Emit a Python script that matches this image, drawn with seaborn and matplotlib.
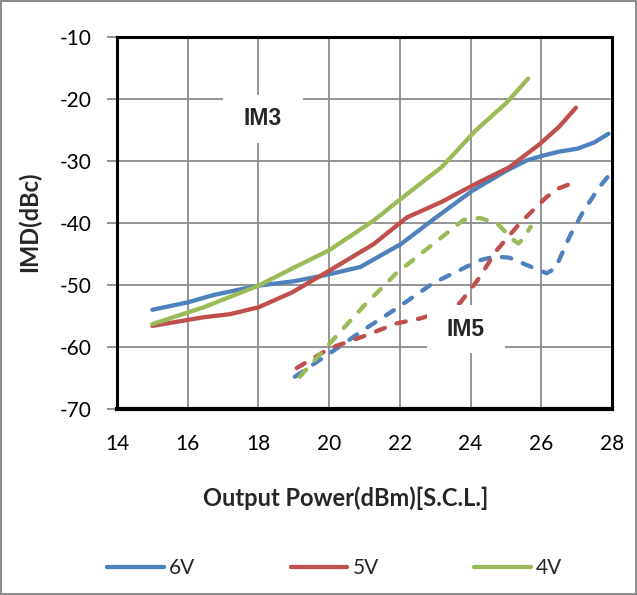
import matplotlib
matplotlib.use("Agg")
import matplotlib.pyplot as plt
import seaborn as sns
import pandas as pd
from matplotlib.patches import Rectangle

# ---- data ----
im3_6v_x = [15, 16, 16.74, 18, 19, 19.82, 20.88, 22.03, 23, 24.05, 25, 25.59, 26.07, 26.5, 27.03, 27.5, 27.9]
im3_6v_y = [-54.0, -52.8, -51.6, -50.1, -49.4, -48.5, -47.1, -43.4, -39.2, -34.8, -31.6, -29.9, -29.1, -28.5, -28.0, -27.0, -25.6]

im3_5v_x = [15, 16.45, 17.2, 18, 18.95, 20, 21.26, 22.2, 23.18, 24.14, 25.1, 25.97, 26.5, 26.98]
im3_5v_y = [-56.6, -55.2, -54.7, -53.6, -51.2, -47.7, -43.4, -39.1, -36.6, -33.7, -31.0, -27.2, -24.5, -21.4]

im3_4v_x = [15, 16.45, 18, 19, 20, 21.26, 22.03, 23.18, 24.14, 25, 25.63]
im3_4v_y = [-56.3, -53.6, -50.1, -47.2, -44.4, -39.6, -36.1, -31.0, -25.1, -20.7, -16.7]

im5_6v_x = [19.03, 20.02, 20.96, 21.9, 22.94, 23.8, 24.27, 24.7, 25.1, 25.6, 26.15, 26.4, 26.8, 27.2, 27.66, 28.0]
im5_6v_y = [-64.8, -61.0, -57.3, -53.8, -49.7, -47.3, -46.0, -45.4, -45.6, -46.8, -48.1, -47.3, -42.2, -38.0, -34.1, -31.7]

im5_5v_x = [19.08, 20.02, 20.96, 21.9, 22.57, 23.1, 23.7, 24.2, 24.74, 25.4, 26.15, 26.5, 27.0]
im5_5v_y = [-63.4, -60.2, -58.3, -56.2, -55.4, -54.5, -52.9, -49.2, -44.4, -40.0, -35.8, -34.4, -33.3]

im5_4v_x = [19.17, 20.02, 20.96, 21.9, 22.85, 23.8, 24.27, 24.74, 25.2, 25.35, 25.5, 25.7]
im5_4v_y = [-64.8, -59.4, -53.5, -48.1, -43.8, -39.5, -39.2, -40.0, -42.7, -43.3, -42.5, -40.6]

labels = ["6V", "5V", "4V"]
colors = ["#4F81BD", "#C0504D", "#9BBB59"]
x_ticks = [14, 16, 18, 20, 22, 24, 26, 28]
y_ticks = [-70, -60, -50, -40, -30, -20, -10]

sns.set_theme(style="white")
plt.rcParams['font.family'] = ['Lato', 'DejaVu Sans']

fig = plt.figure(figsize=(6.37, 5.95), dpi=100)
fig.patch.set_facecolor("white")
fig.patch.set_edgecolor("#8c8c8c")
fig.patch.set_linewidth(1.5)
ax = fig.add_axes([117/637, 1-409/595, (612-117)/637, (409-37)/595])

lw = 3.1
solid = [(im3_6v_x, im3_6v_y), (im3_5v_x, im3_5v_y), (im3_4v_x, im3_4v_y)]
dashed = [(im5_6v_x, im5_6v_y), (im5_5v_x, im5_5v_y), (im5_4v_x, im5_4v_y)]

for (xs, ys), c, lab in zip(solid, colors, labels):
    df = pd.DataFrame({"x": xs, "y": ys})
    sns.lineplot(data=df, x="x", y="y", ax=ax, color=c, lw=lw, sort=False,
                 estimator=None, label=lab, solid_capstyle="round",
                 solid_joinstyle="round", zorder=3)
for (xs, ys), c in zip(dashed, colors):
    df = pd.DataFrame({"x": xs, "y": ys})
    sns.lineplot(data=df, x="x", y="y", ax=ax, color=c, lw=lw, sort=False,
                 estimator=None, dashes=False, zorder=3)
    ax.lines[-1].set_dashes((2.2, 2.9))
    ax.lines[-1].set_dash_capstyle("round")
    ax.lines[-1].set_dash_joinstyle("round")

ax.set_xlim(14, 28)
ax.set_ylim(-70, -10)
ax.set_xticks(x_ticks)
ax.set_yticks(y_ticks)
ax.set_xticklabels([str(t) for t in x_ticks], fontsize=15)
ax.set_yticklabels([str(t) for t in y_ticks], fontsize=15)
ax.grid(True, color="#8c8c8c", lw=1.3)
ax.set_axisbelow(True)
for s in ax.spines.values():
    s.set_visible(True)
    s.set_color("black")
ax.spines["left"].set_linewidth(2.2)
ax.spines["top"].set_linewidth(2.2)
ax.spines["right"].set_linewidth(2.2)
ax.spines["bottom"].set_linewidth(3)
ax.tick_params(axis="y", which="major", direction="out", length=7, width=1.3,
               color="#8c8c8c", left=True, pad=11, labelcolor="black")
ax.tick_params(axis="x", which="major", length=0, pad=18, labelcolor="black")

ax.set_xlabel("Output Power(dBm)[S.C.L.]", fontsize=17, fontweight="bold")
ax.xaxis.set_label_coords(0.463, -0.239)
ax.xaxis.label.set_va("center")
ax.set_ylabel("IMD(dBc)", fontsize=17, fontweight="bold")
ax.yaxis.set_label_coords(-0.176, 0.504)
ax.yaxis.label.set_va("center")

# annotation boxes
ax.add_patch(Rectangle((17.0, -27.1), 2.26, 7.75, facecolor="white", edgecolor="none", zorder=4))
ax.text(18.13, -23.2, "IM3", fontsize=16.5, fontweight="bold", ha="center", va="center",
        family=["Liberation Sans", "DejaVu Sans"], zorder=5)
ax.add_patch(Rectangle((22.77, -61.0), 2.2, 7.8, facecolor="white", edgecolor="none", zorder=4))
ax.text(23.87, -57.2, "IM5", fontsize=16.5, fontweight="bold", ha="center", va="center",
        family=["Liberation Sans", "DejaVu Sans"], zorder=5)

leg = ax.legend(loc="upper center", bbox_to_anchor=(0.44, -0.35), ncol=3, frameon=False,
                fontsize=15, handlelength=2.7, columnspacing=4.6, handletextpad=0.25)
for h in leg.get_lines():
    h.set_linewidth(lw)
    h.set_solid_capstyle("round")

fig.savefig("out.png", dpi=100, facecolor=fig.get_facecolor(), edgecolor=fig.get_edgecolor())
